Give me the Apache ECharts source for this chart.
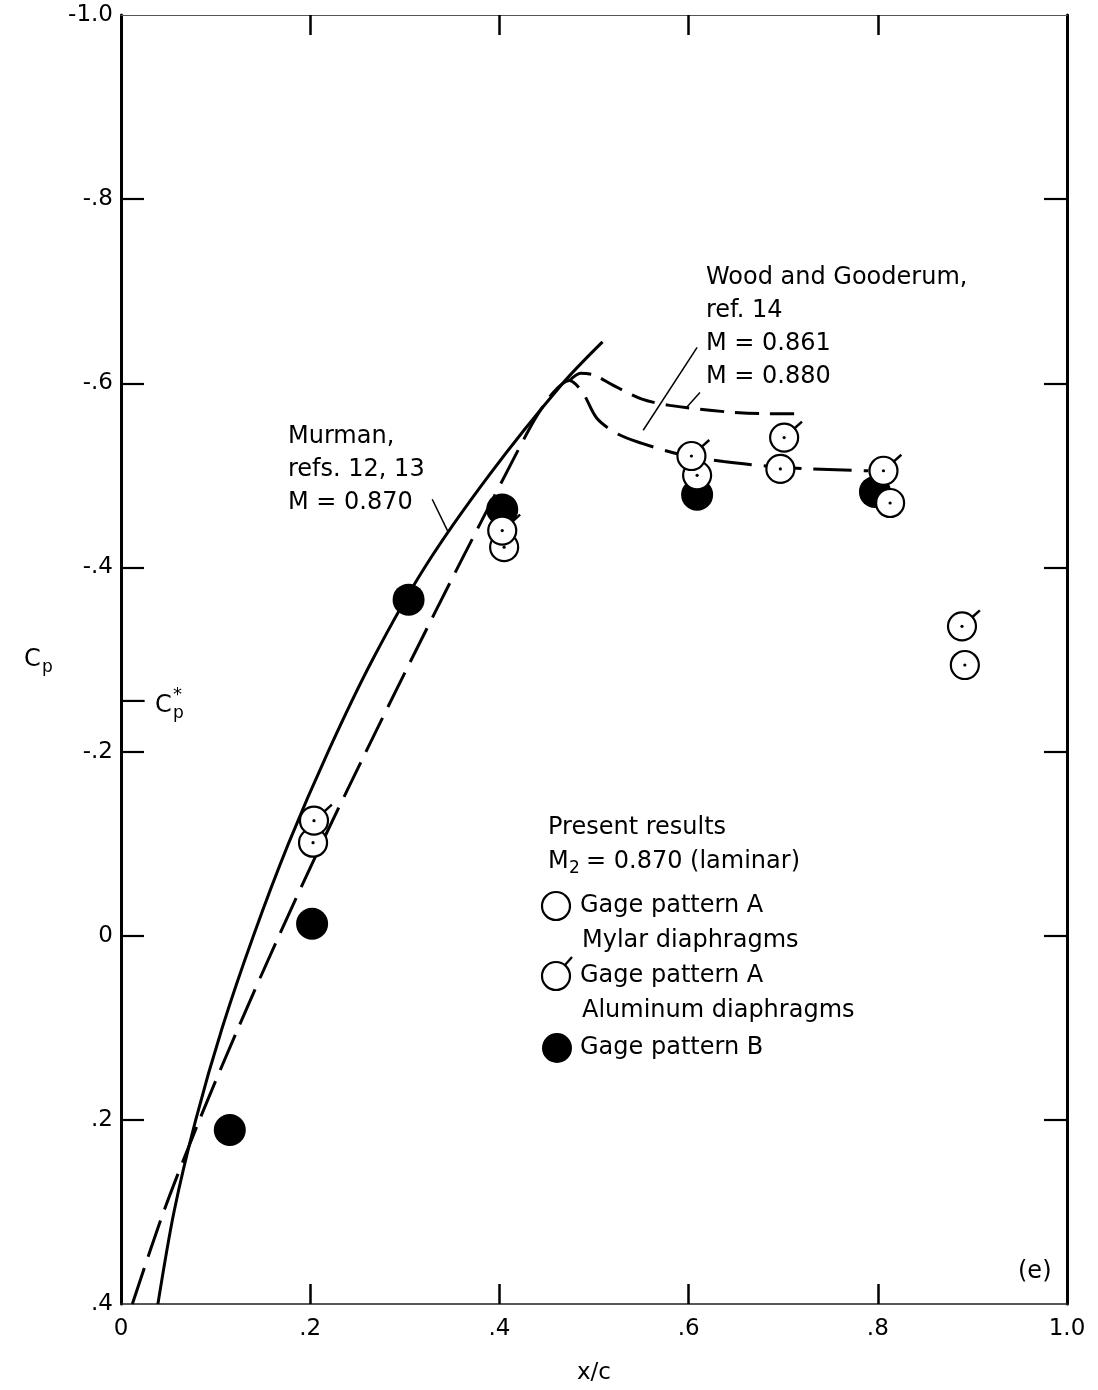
<!DOCTYPE html>
<html><head><meta charset="utf-8">
<script src="https://cdn.jsdelivr.net/npm/echarts@6/dist/echarts.min.js"></script>
<style>html,body{margin:0;padding:0;background:#fff}#c{width:1098px;height:1390px}</style>
</head><body><div id="c"></div>
<script>
// ---- tick values ----
const xTickValues = [0, 0.2, 0.4, 0.6, 0.8, 1.0];
const yTickValues = [-1.0, -0.8, -0.6, -0.4, -0.2, 0, 0.2, 0.4];
const cpStar = -0.255;

// ---- Murman, refs. 12, 13, M = 0.870 (solid) ----
const murmanX  = [0.039, 0.056, 0.079, 0.107, 0.140, 0.177, 0.219, 0.266, 0.321, 0.389, 0.467, 0.509];
const murmanCp = [0.40,  0.30,  0.20,  0.10,  0.00, -0.10, -0.20, -0.30, -0.40, -0.50, -0.60, -0.645];

// ---- Wood and Gooderum, ref. 14, M = 0.861 (long dash) ----
const wg861X  = [0.012, 0.045, 0.083, 0.124, 0.167, 0.212, 0.259, 0.307, 0.356, 0.406, 0.437, 0.457, 0.474, 0.488, 0.503, 0.525, 0.550, 0.590, 0.637, 0.684, 0.730, 0.790];
const wg861Cp = [0.40,  0.30,  0.20,  0.10,  0.00, -0.10, -0.20, -0.30, -0.40, -0.50, -0.56, -0.59, -0.603, -0.590, -0.562, -0.545, -0.535, -0.523, -0.515, -0.510, -0.507, -0.505];

// ---- Wood and Gooderum, ref. 14, M = 0.880 (dash) ----
const wg880X  = [0.474, 0.486, 0.500, 0.520, 0.550, 0.580, 0.640, 0.680, 0.718];
const wg880Cp = [-0.603, -0.611, -0.609, -0.598, -0.583, -0.576, -0.569, -0.567, -0.567];

// ---- Present results, M2 = 0.870 (laminar) ----
const mylarX  = [0.203, 0.405, 0.609, 0.697, 0.813, 0.892];   // Gage pattern A, Mylar diaphragms
const mylarCp = [-0.101, -0.422, -0.500, -0.507, -0.470, -0.294];
const aluX    = [0.204, 0.403, 0.603, 0.701, 0.806, 0.889];   // Gage pattern A, Aluminum diaphragms
const aluCp   = [-0.125, -0.440, -0.521, -0.541, -0.505, -0.336];
const patBX   = [0.115, 0.202, 0.304, 0.403, 0.609, 0.797];   // Gage pattern B
const patBCp  = [0.211, -0.013, -0.365, -0.463, -0.479, -0.482];

// ---- annotation leader lines (data space) ----
const leadMurmanX = [0.329, 0.346];  const leadMurmanCp = [-0.474, -0.438];
const lead861X = [0.609, 0.552];     const lead861Cp = [-0.639, -0.549];
const lead880X = [0.612, 0.598];     const lead880Cp = [-0.590, -0.574];

const zip = (a, b) => a.map((v, i) => [v, b[i]]);
const FONT = 'DejaVu Sans';
const F = s => s + 'px "' + FONT + '"';
const TS = 24;

function fmt(v) {
  if (Math.abs(v) < 1e-9) return '0';
  let s = (Math.round(v * 10) / 10).toFixed(1);
  if (Math.abs(v) < 0.999) s = s.replace('0.', '.');
  return s;
}

function openRender(flag) {
  return function (params, api) {
    const p = api.coord([api.value(0), api.value(1)]);
    const r = 14;
    const ch = [
      { type: 'circle', shape: { cx: p[0], cy: p[1], r: r }, style: { fill: '#fff', stroke: '#000', lineWidth: 2.2 } },
      { type: 'circle', shape: { cx: p[0], cy: p[1], r: 1.6 }, style: { fill: '#000' } }
    ];
    if (flag) {
      const a = Math.PI / 4.3;
      ch.push({ type: 'line', shape: { x1: p[0] + r * Math.cos(a), y1: p[1] - r * Math.sin(a), x2: p[0] + (r + 10) * Math.cos(a), y2: p[1] - (r + 10) * Math.sin(a) }, style: { stroke: '#000', lineWidth: 2.4 } });
    }
    return { type: 'group', children: ch };
  };
}

const chart = echarts.init(document.getElementById('c'));
const axisLblStyle = { fontSize: 23, fontFamily: FONT, color: '#000' };
const innerXTicks = [0.2, 0.4, 0.6, 0.8];
const innerYTicks = [-0.8, -0.6, -0.4, -0.2, 0, 0.2];

const lineSeries = (name, x, y, type, width, z, smooth) => ({
  name, type: 'line', data: zip(x, y), showSymbol: false, symbol: 'none', smooth: smooth,
  lineStyle: { color: '#000', width: width, type: type, cap: 'butt' }, z: z, silent: true
});

chart.setOption({
  animation: false,
  backgroundColor: '#fff',
  grid: { left: 121, right: 31, top: 15, bottom: 84 },
  xAxis: [
    { type: 'value', min: 0, max: 1, interval: 0.2, position: 'bottom',
      axisLine: { onZero: false, lineStyle: { color: '#222', width: 1.5 } },
      axisTick: { inside: true, length: 20, customValues: innerXTicks, lineStyle: { color: '#000', width: 2.5 } },
      axisLabel: Object.assign({ formatter: fmt, margin: 14 }, axisLblStyle),
      splitLine: { show: false },
      name: 'x/c', nameLocation: 'middle', nameGap: 58, nameTextStyle: { fontSize: 23, fontFamily: FONT, color: '#000' } },
    { type: 'value', min: 0, max: 1, interval: 0.2, position: 'top',
      axisLine: { onZero: false, lineStyle: { color: '#555', width: 1 } },
      axisTick: { inside: true, length: 20, customValues: innerXTicks, lineStyle: { color: '#000', width: 2.5 } },
      axisLabel: { show: false }, splitLine: { show: false } }
  ],
  yAxis: [
    { type: 'value', min: -1.0, max: 0.4, interval: 0.2, inverse: true, position: 'left',
      axisLine: { onZero: false, lineStyle: { color: '#000', width: 3 } },
      axisTick: { inside: true, length: 23, customValues: innerYTicks, lineStyle: { color: '#000', width: 2.2 } },
      axisLabel: Object.assign({ formatter: fmt, margin: 8, padding: [9, 0, 0, 0] }, axisLblStyle),
      splitLine: { show: false } },
    { type: 'value', min: -1.0, max: 0.4, interval: 0.2, inverse: true, position: 'right',
      axisLine: { onZero: false, lineStyle: { color: '#000', width: 3 } },
      axisTick: { inside: true, length: 23, customValues: innerYTicks, lineStyle: { color: '#000', width: 2.2 } },
      axisLabel: { show: false }, splitLine: { show: false } }
  ],
  series: [
    lineSeries('Murman, M = 0.870', murmanX, murmanCp, 'solid', 3, 2, 0.3),
    lineSeries('Wood and Gooderum, M = 0.861', wg861X, wg861Cp, [38, 12], 3, 2, 0.3),
    lineSeries('Wood and Gooderum, M = 0.880', wg880X, wg880Cp, [24, 11], 3, 2, 0.3),
    lineSeries('lead1', leadMurmanX, leadMurmanCp, 'solid', 1.5, 2, false),
    lineSeries('lead2', lead861X, lead861Cp, 'solid', 1.5, 2, false),
    lineSeries('lead3', lead880X, lead880Cp, 'solid', 1.5, 2, false),
    lineSeries('Cp*', [0, 0.025], [cpStar, cpStar], 'solid', 2.2, 2, false),
    { name: 'Gage pattern B', type: 'scatter', data: zip(patBX, patBCp), symbol: 'circle', symbolSize: 32,
      itemStyle: { color: '#000', opacity: 1 }, z: 3, silent: true },
    { name: 'Gage pattern A, Mylar diaphragms', type: 'custom', data: zip(mylarX, mylarCp),
      encode: { x: 0, y: 1 }, renderItem: openRender(false), z: 4, silent: true },
    { name: 'Gage pattern A, Aluminum diaphragms', type: 'custom', data: zip(aluX, aluCp),
      encode: { x: 0, y: 1 }, renderItem: openRender(true), z: 5, silent: true }
  ],
  graphic: [
    // y-axis title Cp
    { type: 'text', x: 24, y: 660, style: { text: 'C', font: F(TS), fill: '#000', verticalAlign: 'middle' } },
    { type: 'text', x: 42, y: 668, style: { text: 'p', font: F(17), fill: '#000', verticalAlign: 'middle' } },
    // Cp* marker
    { type: 'text', x: 155, y: 706, style: { text: 'C', font: F(TS), fill: '#000', verticalAlign: 'middle' } },
    { type: 'text', x: 173, y: 695, style: { text: '*', font: F(18), fill: '#000', verticalAlign: 'middle' } },
    { type: 'text', x: 173, y: 714, style: { text: 'p', font: F(17), fill: '#000', verticalAlign: 'middle' } },
    // Murman
    { type: 'text', x: 288, y: 437, style: { text: 'Murman,', font: F(TS), fill: '#000', verticalAlign: 'middle' } },
    { type: 'text', x: 288, y: 470, style: { text: 'refs. 12, 13', font: F(TS), fill: '#000', verticalAlign: 'middle' } },
    { type: 'text', x: 288, y: 503, style: { text: 'M = 0.870', font: F(TS), fill: '#000', verticalAlign: 'middle' } },
    // Wood and Gooderum
    { type: 'text', x: 706, y: 278, style: { text: 'Wood and Gooderum,', font: F(TS), fill: '#000', verticalAlign: 'middle' } },
    { type: 'text', x: 706, y: 311, style: { text: 'ref. 14', font: F(TS), fill: '#000', verticalAlign: 'middle' } },
    { type: 'text', x: 706, y: 344, style: { text: 'M = 0.861', font: F(TS), fill: '#000', verticalAlign: 'middle' } },
    { type: 'text', x: 706, y: 377, style: { text: 'M = 0.880', font: F(TS), fill: '#000', verticalAlign: 'middle' } },
    // legend block
    { type: 'text', x: 548, y: 828, style: { text: 'Present results', font: F(TS), fill: '#000', verticalAlign: 'middle' } },
    { type: 'text', x: 548, y: 862, style: { text: 'M', font: F(TS), fill: '#000', verticalAlign: 'middle' } },
    { type: 'text', x: 569, y: 869, style: { text: '2', font: F(17), fill: '#000', verticalAlign: 'middle' } },
    { type: 'text', x: 586, y: 862, style: { text: '= 0.870 (laminar)', font: F(TS), fill: '#000', verticalAlign: 'middle' } },
    { type: 'circle', shape: { cx: 556, cy: 906, r: 14 }, style: { fill: '#fff', stroke: '#000', lineWidth: 2.2 } },
    { type: 'text', x: 580, y: 906, style: { text: 'Gage pattern A', font: F(TS), fill: '#000', verticalAlign: 'middle' } },
    { type: 'text', x: 582, y: 941, style: { text: 'Mylar diaphragms', font: F(TS), fill: '#000', verticalAlign: 'middle' } },
    { type: 'circle', shape: { cx: 556, cy: 976, r: 14 }, style: { fill: '#fff', stroke: '#000', lineWidth: 2.2 } },
    { type: 'line', shape: { x1: 565, y1: 965, x2: 572, y2: 957 }, style: { stroke: '#000', lineWidth: 2.2 } },
    { type: 'text', x: 580, y: 976, style: { text: 'Gage pattern A', font: F(TS), fill: '#000', verticalAlign: 'middle' } },
    { type: 'text', x: 582, y: 1011, style: { text: 'Aluminum diaphragms', font: F(TS), fill: '#000', verticalAlign: 'middle' } },
    { type: 'circle', shape: { cx: 557, cy: 1048, r: 15 }, style: { fill: '#000' } },
    { type: 'text', x: 580, y: 1048, style: { text: 'Gage pattern B', font: F(TS), fill: '#000', verticalAlign: 'middle' } },
    // panel label
    { type: 'text', x: 1018, y: 1272, style: { text: '(e)', font: F(TS), fill: '#000', verticalAlign: 'middle' } }
  ]
});
</script></body></html>
